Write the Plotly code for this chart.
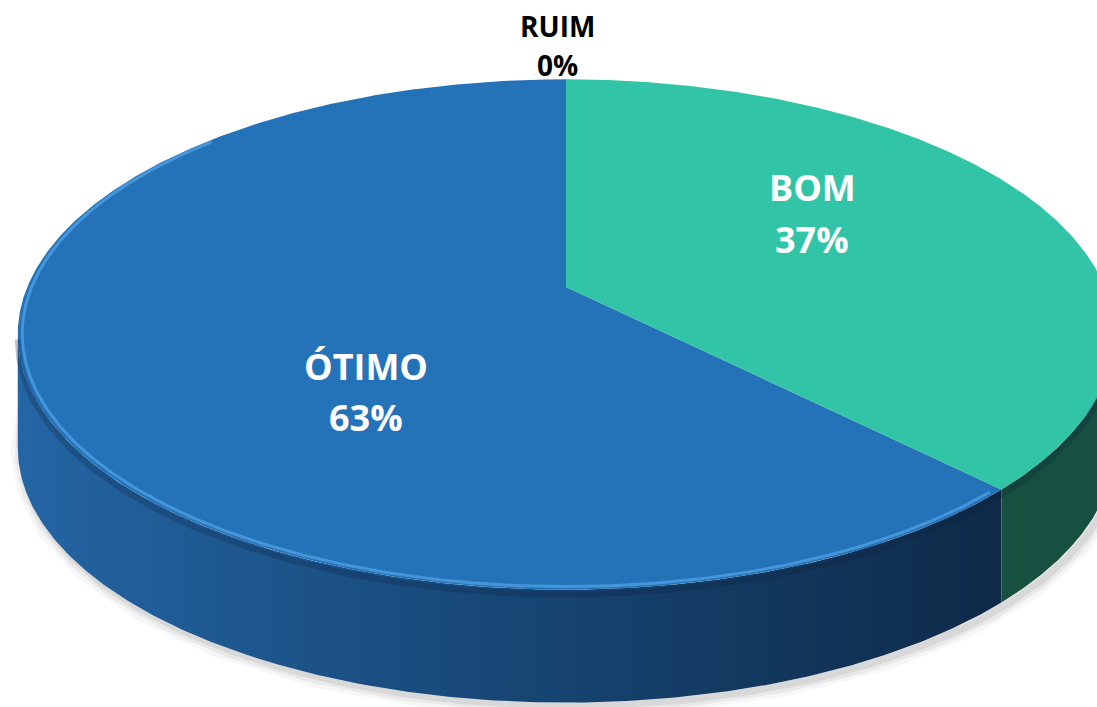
import numpy as np
import plotly.graph_objects as go

# ---- data ----
categories = ["ÓTIMO", "BOM", "RUIM"]
values = [63, 37, 0]
pct_labels = ["63%", "37%", "0%"]

# ---- style / geometry (pixels) ----
W, H = 1097, 707
CX, CY = 566.0, 287.0      # projected centre of the disc (apex)
A, B = 538.7, 246.3        # horizontal / vertical radius
K = 0.186                  # perspective factor
T = 113.0                  # thickness of the pie
WARP = -0.040              # angular distortion of the 3-D projection

top_colors = {"ÓTIMO": "#2473B8", "BOM": "#32C4A6", "RUIM": "#A5A5A5"}
side_scales = {
    "ÓTIMO": [[0, "#2465A4"], [0.45, "#18497A"], [1, "#0E2A48"]],
    "BOM": [[0, "#16503F"], [1, "#174F40"]],
    "RUIM": [[0, "#555555"], [1, "#444444"]],
}
label_colors = {"ÓTIMO": "white", "BOM": "white", "RUIM": "black"}
label_pos = {"ÓTIMO": (366, 366, 417, 36), "BOM": (812, 187, 239, 36), "RUIM": (557, 26, 65, 28)}


def proj(phi, r=1.0, dy=0.0):
    phi = np.asarray(phi, dtype=float)
    phi = phi + WARP * np.sin(2 * phi)
    u = r * np.sin(phi)
    v = r * np.cos(phi)
    den = 1 + K * v
    return CX + A * u / den, CY - B * v / den + dy


def unwarp(p):
    # invert phi + WARP*sin(2 phi) = p
    q = p
    for _ in range(30):
        q = p - WARP * np.sin(2 * q)
    return q


total = float(sum(values))
phi_R = unwarp(np.arccos(-K))
phi_L = unwarp(2 * np.pi - np.arccos(-K))

fig = go.Figure()

# soft shadow under the pie
sh = np.linspace(phi_R - 0.25, phi_L + 0.25, 300)
sx, sy = proj(sh, dy=T + 3)
for wdt, op in [(22, 0.035), (14, 0.05), (7, 0.07)]:
    fig.add_trace(go.Scatter(x=sx + 4, y=sy, mode="lines",
                             line=dict(color=f"rgba(0,0,0,{op})", width=wdt),
                             hoverinfo="skip", showlegend=False))

# slices drawn counter-clockwise from 12 o'clock
slices = []
cum = 0.0
for cat, val in zip(categories, values):
    s = 2 * np.pi - 2 * np.pi * (cum + val) / total
    e = 2 * np.pi - 2 * np.pi * cum / total
    cum += val
    slices.append((cat, s, e))

# sides
for cat, s, e in slices:
    lo, hi = max(s, phi_R), min(e, phi_L)
    if hi - lo <= 1e-6:
        continue
    ph = np.linspace(lo, hi, 300)
    tx, ty = proj(ph)
    bx, by = proj(ph[::-1], dy=T)
    fig.add_trace(go.Scatter(
        x=np.concatenate([tx, bx, tx[:1]]), y=np.concatenate([ty, by, ty[:1]]),
        mode="lines", fill="toself", line=dict(width=0, color=side_scales[cat][0][1]),
        fillgradient=dict(type="horizontal", colorscale=side_scales[cat]),
        hoverinfo="skip", showlegend=False))

# tops
for cat, s, e in slices:
    if e - s <= 1e-6:
        continue
    ph = np.linspace(s, e, 500)
    tx, ty = proj(ph)
    fig.add_trace(go.Scatter(
        x=np.concatenate([[CX], tx, [CX]]), y=np.concatenate([[CY], ty, [CY]]),
        mode="lines", fill="toself", fillcolor=top_colors[cat],
        line=dict(width=0, color=top_colors[cat]),
        hoverinfo="skip", showlegend=False))

# bevel: dark band under the rim + light highlight on the rim
for cat, s, e in slices:
    lo, hi = max(s, phi_R), min(e, phi_L)
    if hi - lo <= 1e-6:
        continue
    ph = np.linspace(lo, hi, 300)
    dx_, dy_ = proj(ph, dy=5)
    fig.add_trace(go.Scatter(x=dx_, y=dy_, mode="lines",
                             line=dict(color="rgba(10,30,60,0.25)", width=6),
                             hoverinfo="skip", showlegend=False))
for cat, s, e in slices:
    if cat != "ÓTIMO":
        continue
    ph = np.linspace(s + 0.02, min(e, 2 * np.pi * 0.86), 400)
    hx, hy = proj(ph, r=0.992)
    fig.add_trace(go.Scatter(x=hx, y=hy, mode="lines",
                             line=dict(color="rgba(75,155,225,0.85)", width=3),
                             hoverinfo="skip", showlegend=False))

# labels
for cat, pct in zip(categories, pct_labels):
    x, y1, y2, fs = label_pos[cat]
    for txt, yy in [(cat, y1), (pct, y2)]:
        fig.add_annotation(x=x, y=yy, xref="x", yref="y", text=txt, showarrow=False,
                           xanchor="center", yanchor="middle",
                           font=dict(family="Open Sans", size=fs, color=label_colors[cat], weight="bold"))

fig.update_layout(
    width=W, height=H, margin=dict(l=0, r=0, t=0, b=0),
    paper_bgcolor="white", plot_bgcolor="white", showlegend=False,
    xaxis=dict(range=[0, W], visible=False, fixedrange=True),
    yaxis=dict(range=[H, 0], visible=False, fixedrange=True),
)
fig.write_html("out.html", config={"displayModeBar": False},
               post_script="document.body.style.margin='0';document.body.style.overflow='hidden';")
